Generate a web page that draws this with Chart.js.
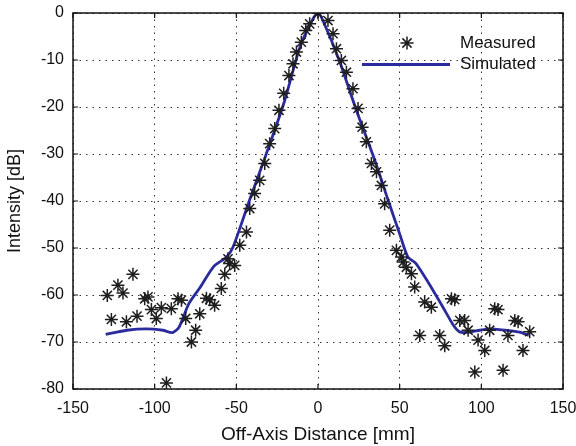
<!DOCTYPE html>
<html>
<head>
<meta charset="utf-8">
<script src="https://cdn.jsdelivr.net/npm/chart.js@4/dist/chart.umd.min.js"></script>
<style>
  html, body { margin: 0; padding: 0; background: #fff; }
  #wrap { width: 576px; height: 446px; }
</style>
</head>
<body>
<div id="wrap"><canvas id="beam"></canvas></div>
<script>
/* ── DATA ── */
const measuredX = [
  -129, -126.5, -122.5, -119.4, -117.3, -113.3, -110.8, -106.1, -104.1, -102,
  -99, -95.9, -92.8, -89.8, -85.7, -83.6, -81, -77.5, -74.9, -72.4,
  -68.3, -66.3, -63.3, -59.2, -57.1, -55.1, -54.1, -51, -47.9, -43.8,
  -41.8, -38.8, -35.7, -32.6, -29.6, -26.5, -23.9, -21, -17.8, -15.3,
  -13.2, -10.2, -7.5, -5.1, 0, 6.1, 9.2, 11.3, 14.3, 17.4,
  21.4, 24.5, 27, 29.6, 32.7, 35.8, 38.8, 40.8, 43.9, 48,
  51.1, 52.1, 54.1, 57.2, 59.2, 62.3, 65.3, 69.4, 74.5, 77.6,
  81.7, 83.7, 86.8, 89.8, 91.9, 96, 98, 102.1, 105.1, 108.2,
  110.2, 113.3, 116.3, 120.5, 122.5, 125.5, 129.6
];
const measuredY = [
  -60.1, -65.2, -57.9, -59.6, -65.7, -55.6, -64.5, -60.8, -60.4, -63.1,
  -65, -62.7, -78.7, -62.9, -60.8, -61.1, -65, -70, -67.5, -64,
  -60.7, -61, -62.2, -58.6, -55.6, -52.3, -53.3, -53.7, -49.4, -46.6,
  -41.6, -38.4, -35.6, -32, -27.8, -24.6, -20.7, -17.1, -13.3, -10.8,
  -8.3, -6.2, -3.7, -2.3, 0, -1.6, -4.4, -7.6, -10.1, -12.6,
  -16.1, -20.3, -24.3, -27.4, -32, -33.8, -36.7, -40.6, -46.2, -50.5,
  -51.9, -53, -54.1, -55.5, -58.3, -68.6, -61.5, -62.6, -68.6, -70.8,
  -60.8, -61, -65.4, -65.4, -67.5, -76.4, -69.6, -71.8, -67.5, -62.9,
  -63.1, -76, -68.6, -65.4, -65.7, -71.8, -67.8
];

const simulatedX = [
  -130, -117, -105, -95, -89, -85, -79, -72, -64, -56,
  -52, -42, -32, -21, -11, -3, 0, 3, 13, 23.5,
  34, 43, 50, 55, 60, 68, 76.5, 83, 87, 93,
  99, 105, 115, 123.5, 129
];
const simulatedY = [
  -68.4, -67.5, -67.2, -67.5, -68, -66.8, -61.8, -58.3, -54, -51.9,
  -49.8, -39.9, -30.3, -19.3, -7.2, -1.2, 0, -1.6, -10.1, -20.7,
  -30.6, -39.9, -47, -51.9, -53.3, -57.6, -62.6, -66.5, -67.9, -67.9,
  -67.5, -67.2, -67.5, -67.9, -68.6
];

const xTicks = [-150, -100, -50, 0, 50, 100, 150];
const yTicks = [-80, -70, -60, -50, -40, -30, -20, -10, 0];
const legendLabels = ['Measured', 'Simulated'];

const LINE_BLUE = '#2b2b9e';
const STAR_INK  = '#1e1e1e';
const FONT = '"Liberation Sans", Arial, Helvetica, sans-serif';

/* ── box, inward ticks and legend (matlab look) ── */
const frameAndLegend = {
  id: 'frameAndLegend',
  afterDraw(chart) {
    const { ctx, chartArea: a, scales: { x, y } } = chart;
    ctx.save();
    ctx.strokeStyle = '#111';
    ctx.lineWidth = 1.5;
    ctx.setLineDash([]);
    ctx.strokeRect(a.left, a.top, a.right - a.left, a.bottom - a.top);

    ctx.lineWidth = 1.2;
    const tl = 5;
    ctx.beginPath();
    xTicks.forEach(v => {
      const px = x.getPixelForValue(v);
      ctx.moveTo(px, a.bottom); ctx.lineTo(px, a.bottom - tl);
      ctx.moveTo(px, a.top);    ctx.lineTo(px, a.top + tl);
    });
    yTicks.forEach(v => {
      const py = y.getPixelForValue(v);
      ctx.moveTo(a.left, py);  ctx.lineTo(a.left + tl, py);
      ctx.moveTo(a.right, py); ctx.lineTo(a.right - tl, py);
    });
    ctx.stroke();

    // legend
    const sx = 407, sy = 43, r = 6.5;
    ctx.strokeStyle = STAR_INK;
    ctx.lineWidth = 1.5;
    ctx.beginPath();
    for (let k = 0; k < 4; k++) {
      const ang = k * Math.PI / 4;
      ctx.moveTo(sx - r * Math.cos(ang), sy - r * Math.sin(ang));
      ctx.lineTo(sx + r * Math.cos(ang), sy + r * Math.sin(ang));
    }
    ctx.stroke();

    ctx.strokeStyle = LINE_BLUE;
    ctx.lineWidth = 2.8;
    ctx.beginPath();
    ctx.moveTo(362, 64.5); ctx.lineTo(450, 64.5);
    ctx.stroke();

    ctx.fillStyle = '#111';
    ctx.font = '17px ' + FONT;
    ctx.textBaseline = 'middle';
    ctx.textAlign = 'left';
    ctx.fillText(legendLabels[0], 460, 43);
    ctx.fillText(legendLabels[1], 460, 64.5);
    ctx.restore();
  }
};

const gridOpts = { color: '#333', lineWidth: 1, drawTicks: false };

new Chart(document.getElementById('beam'), {
  type: 'scatter',
  data: {
    datasets: [
      {
        label: legendLabels[1],
        type: 'line',
        data: simulatedX.map((v, i) => ({ x: v, y: simulatedY[i] })),
        borderColor: LINE_BLUE,
        borderWidth: 2.8,
        pointRadius: 0,
        tension: 0.25,
        fill: false,
        order: 2
      },
      {
        label: legendLabels[0],
        data: measuredX.map((v, i) => ({ x: v, y: measuredY[i] })),
        pointStyle: 'star',
        radius: 6.5,
        borderColor: STAR_INK,
        backgroundColor: STAR_INK,
        borderWidth: 1.5,
        order: 1
      }
    ]
  },
  options: {
    responsive: true, maintainAspectRatio: false,
    animation: false,
    layout: { padding: { left: 0, right: 13, top: 13, bottom: 0 } },
    plugins: { legend: { display: false }, tooltip: { enabled: false } },
    scales: {
      x: {
        type: 'linear', min: -150, max: 150,
        afterBuildTicks: s => { s.ticks = xTicks.map(v => ({ value: v })); },
        afterFit: s => { s.height = 57; s.paddingLeft = 0; s.paddingRight = 0; },
        grid: gridOpts,
        border: { display: false, dash: [1.5, 5] },
        ticks: { color: '#111', font: { family: FONT, size: 16 }, padding: 10 },
        title: {
          display: true, text: 'Off-Axis Distance [mm]', color: '#111',
          font: { family: FONT, size: 19 }, padding: { top: 0, bottom: 0 }
        }
      },
      y: {
        type: 'linear', min: -80, max: 0,
        afterBuildTicks: s => { s.ticks = yTicks.map(v => ({ value: v })); },
        afterFit: s => { s.width = 73; s.paddingTop = 0; s.paddingBottom = 0; },
        grid: gridOpts,
        border: { display: false, dash: [1.5, 5] },
        ticks: { color: '#111', font: { family: FONT, size: 16 }, padding: 9 },
        title: {
          display: true, text: 'Intensity [dB]', color: '#111',
          font: { family: FONT, size: 18 }, padding: { top: 4, bottom: 0 }
        }
      }
    }
  },
  plugins: [frameAndLegend]
});
</script>
</body>
</html>
